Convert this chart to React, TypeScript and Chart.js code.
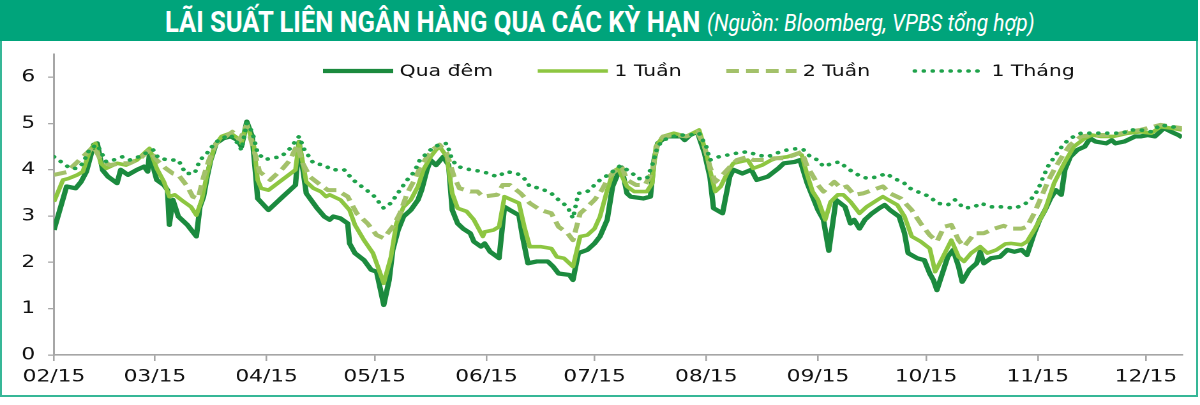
import React, { useEffect, useLayoutEffect, useRef, useState } from 'react';
import { Chart, registerables } from 'chart.js';

Chart.register(...registerables);

// ---------- DATA (x = days since 15/02/2015, y = %) ----------
const seriesNames = ['Qua đêm', '1 Tuần', '2 Tuần', '1 Tháng'];
const monthTickLabels = ['02/15', '03/15', '04/15', '05/15', '06/15', '07/15', '08/15', '09/15', '10/15', '11/15', '12/15'];
const yTickValues = [0, 1, 2, 3, 4, 5, 6];
const axisStartDate = '2015-02-15';
const axisEndDate = '2015-12-25';
const yAxisMax = 6.5;

const quaDem: [number, number][] = [[0,2.7],[3.5,3.64],[6,3.6],[7.5,3.74],[9,3.96],[11,4.54],[12,4.57],[13.5,3.99],[15,3.85],[17.5,3.71],[18.5,4.0],[20.5,3.89],[23,4.0],[25,4.07],[26,3.96],[26.5,4.36],[28.5,3.78],[30.5,3.67],[31.5,3.56],[32,2.81],[33,3.35],[34.5,2.99],[37,2.81],[38.5,2.66],[39.5,2.56],[40.5,3.2],[41.5,3.42],[42.5,3.85],[43.5,4.21],[45,4.57],[47,4.68],[49,4.72],[51,4.64],[52,4.5],[53.5,5.04],[55,4.72],[56,3.85],[56.5,3.38],[59.5,3.13],[63.5,3.42],[67,3.67],[68,4.6],[70,3.49],[73,3.17],[75,2.99],[76.5,2.92],[77.5,2.99],[79.5,2.95],[81.5,2.84],[82,2.41],[83.5,2.2],[86,2.05],[88,1.84],[89.5,1.8],[91.5,1.08],[93,1.62],[94,2.27],[95.5,2.7],[97,2.99],[99,3.13],[101,3.35],[102,3.56],[103.5,4.0],[104.5,4.21],[106,4.1],[108,4.28],[109.5,4.1],[110.5,3.13],[112,2.84],[113.5,2.73],[115.5,2.63],[116.5,2.45],[118.5,2.34],[119.5,2.41],[121,2.23],[123.5,2.09],[125,3.2],[126.5,3.13],[129,3.02],[130,2.56],[131.5,1.98],[134,2.02],[137,2.02],[138.5,1.91],[140,1.76],[143,1.73],[144,1.62],[145.5,2.2],[148,2.27],[150,2.41],[151.5,2.56],[153.5,2.92],[155,3.64],[156.5,3.92],[157.5,4.05],[159,3.49],[160,3.42],[163.5,3.38],[165.5,3.42],[166.5,4.21],[167.5,4.57],[170,4.72],[174,4.72],[175,4.64],[176.5,4.75],[178.5,4.82],[180.5,4.36],[182,3.85],[183,3.17],[185.5,3.06],[187.5,3.85],[188.5,4.0],[191,3.92],[193.5,4.0],[195,3.78],[198,3.85],[201,4.03],[202.5,4.14],[205.5,4.17],[207,4.21],[209,3.71],[212,3.13],[213.5,2.92],[215,2.25],[217,3.35],[219.5,3.2],[221,2.84],[222,2.92],[223.5,2.73],[225,2.92],[227,3.06],[229,3.17],[230.5,3.24],[232,3.13],[234.5,2.99],[236,2.63],[237,2.2],[239.5,2.09],[241.5,2.05],[243,1.76],[244,1.62],[245,1.4],[246.5,1.76],[248,2.12],[249.5,2.27],[251,1.91],[252,1.58],[254,1.84],[256,1.98],[257,2.23],[258,1.98],[260,2.09],[262.5,2.12],[264.5,2.27],[266.5,2.23],[268.5,2.27],[270,2.16],[272,2.63],[273.5,2.92],[275,3.13],[276.5,3.38],[278,3.56],[279.5,3.46],[280.5,4.0],[282,4.28],[284,4.43],[286,4.5],[287.5,4.68],[289,4.61],[292,4.57],[293.5,4.64],[294.5,4.57],[297,4.61],[300,4.72],[301.5,4.72],[303.5,4.75],[305.5,4.72],[308,4.9],[310,4.82],[312,4.75],[313,4.7]];

const motTuan: [number, number][] = [[0,3.31],[2.5,3.78],[4,3.81],[6.5,3.89],[8,3.96],[10,4.43],[11.5,4.57],[13,4.14],[14.5,4.03],[17.5,4.14],[20,4.1],[23,4.21],[25.5,4.39],[26.5,4.46],[28.5,4.03],[30.5,3.74],[32,3.42],[33.5,3.46],[36,3.31],[38,3.2],[39.5,3.02],[41,3.35],[42.5,3.92],[44.5,4.5],[46.5,4.72],[49,4.79],[51,4.68],[52,4.57],[53.5,5.0],[55.5,4.5],[56.5,3.78],[57.5,3.6],[59.5,3.56],[67,4.0],[68,4.6],[70,3.74],[72,3.6],[74,3.53],[75.5,3.42],[76.5,3.46],[79.5,3.35],[82,3.13],[83.5,2.81],[86,2.48],[88.5,2.2],[91.5,1.55],[93.5,2.12],[95,2.84],[97,3.2],[99,3.35],[101,3.64],[102.5,4.0],[104.5,4.28],[106,4.43],[107,4.5],[109,4.28],[110.5,3.49],[112,3.17],[114.5,3.1],[116.5,2.92],[119,2.56],[119.5,2.66],[122,2.7],[123.5,2.77],[125,3.42],[129,3.28],[130.5,2.77],[132,2.34],[135,2.34],[138,2.3],[139.5,2.12],[141.5,2.09],[144,1.91],[146,2.56],[148,2.59],[150,2.73],[151.5,2.99],[153.5,3.56],[155,3.92],[156.5,4.03],[159,3.64],[161,3.53],[164.5,3.53],[166,3.71],[167,4.5],[169,4.72],[172,4.79],[175.5,4.72],[179,4.86],[181,4.36],[182,4.0],[183.5,3.53],[185,3.64],[187,3.96],[188.5,4.14],[192.5,4.21],[194,4.03],[196.5,4.1],[199,4.21],[200.5,4.25],[203.5,4.28],[206.5,4.36],[207.5,4.32],[209,3.89],[210.5,3.53],[212,3.35],[214,2.92],[215.5,3.31],[217.5,3.46],[219,3.46],[221,3.31],[223.5,3.06],[225.5,3.2],[228.5,3.35],[230,3.42],[231.5,3.35],[234,3.24],[236,2.99],[238,2.56],[240.5,2.45],[243,2.3],[244.5,1.8],[246.5,2.09],[249,2.48],[251,2.12],[252.5,2.02],[254.5,2.2],[257,2.34],[259,2.2],[261.5,2.27],[264,2.4],[265.5,2.41],[268.5,2.38],[270,2.45],[272,2.7],[275,3.13],[277.5,3.71],[280.5,4.17],[283,4.5],[286,4.68],[288,4.75],[290.5,4.72],[294,4.72],[298,4.79],[301.5,4.82],[304.5,4.79],[307,4.93],[310,4.9],[313,4.86]];

const haiTuan: [number, number][] = [[0,3.89],[3.5,3.95],[11,4.5],[13,4.21],[15.5,4.1],[18.5,4.14],[21,4.14],[24,4.25],[26.5,4.43],[28.5,4.21],[31,4.03],[33,3.92],[34.5,3.89],[37,3.64],[38.5,3.42],[40,3.38],[41.5,3.85],[43,4.21],[45,4.57],[47,4.68],[49.5,4.82],[51.5,4.64],[53.5,4.97],[56,4.28],[57,3.96],[60,3.78],[63.5,4.03],[65.5,4.21],[67.5,4.54],[69,4.14],[71,3.85],[74,3.67],[76,3.56],[78.5,3.56],[81.5,3.42],[84,3.06],[87,2.84],[89.5,2.59],[91.5,2.52],[94,2.77],[96,3.06],[98,3.49],[100,3.78],[101.5,4.03],[103.5,4.28],[105.5,4.46],[107,4.54],[109,4.36],[111,3.85],[112.5,3.6],[115.5,3.53],[117.5,3.53],[119,3.42],[123,3.46],[124.5,3.67],[126.5,3.67],[129.5,3.49],[132,3.28],[135,3.13],[138,3.06],[140,2.77],[142.5,2.63],[144,2.48],[146,3.06],[148,3.2],[150,3.35],[152,3.56],[154,3.85],[156,4.0],[157.5,4.07],[159,3.78],[161.5,3.67],[164,3.67],[166,3.96],[167.5,4.57],[169,4.72],[172.5,4.75],[175.5,4.72],[178.5,4.82],[180.5,4.5],[182,4.07],[183.5,3.74],[185.5,3.89],[188,4.1],[189.5,4.21],[192.5,4.28],[194,4.21],[197,4.21],[200,4.25],[202.5,4.25],[205.5,4.32],[207.5,4.39],[209,4.07],[211,3.81],[212,3.67],[213.5,3.53],[216.5,3.74],[218.5,3.6],[220,3.64],[222,3.46],[224.5,3.49],[227,3.56],[230,3.64],[232,3.49],[235,3.38],[238,3.13],[240.5,2.84],[243,2.59],[245,2.45],[247,2.77],[249,2.81],[251,2.48],[252.5,2.34],[255.5,2.63],[258,2.63],[261,2.73],[263.5,2.79],[265.5,2.73],[268.5,2.73],[270,2.77],[272,3.06],[274,3.42],[276,3.78],[278,4.07],[280,4.32],[282,4.54],[285,4.72],[288,4.75],[290.5,4.75],[294,4.75],[298,4.82],[301.5,4.86],[307,4.97],[310,4.93],[313,4.9]];

const motThang: [number, number][] = [[0,4.28],[2,4.17],[4.5,4.03],[6.5,4.03],[8,4.14],[10,4.46],[12,4.54],[13,4.39],[14.5,4.17],[16.5,4.21],[19,4.28],[21,4.21],[23.5,4.28],[25.5,4.36],[27.5,4.43],[29,4.25],[32,4.21],[34.5,4.21],[36.5,3.92],[39,3.92],[40.5,4.21],[42.5,4.36],[44.5,4.57],[46.5,4.68],[49,4.75],[51,4.57],[52,4.43],[53.5,5.0],[55,4.82],[56.5,4.36],[58.5,4.22],[61,4.26],[63,4.28],[65.5,4.46],[68,4.72],[69.5,4.43],[72,4.14],[75,4.1],[77,4.0],[80.5,4.0],[83,3.78],[86,3.6],[88.5,3.46],[91.5,3.17],[93.5,3.28],[96,3.56],[98,3.78],[100,3.96],[101.5,4.21],[103.5,4.36],[105.5,4.5],[107,4.54],[109,4.57],[110.5,4.21],[112,4.07],[115.5,4.0],[119,3.96],[123,3.85],[125.5,3.96],[128.5,3.92],[130.5,3.81],[132,3.64],[135,3.6],[138,3.49],[140,3.35],[142.5,3.2],[144,2.95],[145.5,3.49],[148,3.53],[150,3.67],[151.5,3.78],[153,3.85],[155,3.96],[157,4.08],[160,3.96],[162,3.81],[164.5,3.81],[166,4.1],[167.5,4.5],[169,4.64],[173,4.75],[176.5,4.75],[179,4.79],[181,4.5],[182,4.21],[184.5,4.28],[187,4.32],[189.5,4.36],[192.5,4.39],[195,4.32],[198,4.28],[200.5,4.36],[203.5,4.43],[206.5,4.46],[208,4.43],[210,4.27],[212,4.21],[213.5,4.07],[216,4.14],[218,4.17],[219.5,4.07],[221.5,3.96],[224,3.85],[226,3.81],[228.5,3.85],[231,3.92],[233,3.81],[235.5,3.74],[237.5,3.6],[239.5,3.53],[243,3.42],[245,3.28],[248,3.24],[250,3.35],[252.5,3.17],[255.5,3.2],[257,3.28],[260,3.2],[263,3.2],[266.5,3.17],[269,3.24],[271,3.35],[273,3.56],[274.5,3.85],[276,4.1],[278,4.32],[280,4.54],[282,4.68],[285,4.79],[288,4.79],[291.5,4.79],[296.5,4.79],[298.5,4.86],[301.5,4.86],[304.5,4.82],[307,4.97],[310,4.93],[313,4.9]];

// ---------- helpers ----------
const DAY = 86400000;
const startMs = Date.parse(axisStartDate + 'T00:00:00Z');
const daysFromStart = (iso: string) => (Date.parse(iso + 'T00:00:00Z') - startMs) / DAY;
const monthTickDays = monthTickLabels.map((l) => {
  const [mm, yy] = l.split('/').map(Number);
  return (Date.UTC(2000 + yy, mm - 1, 15) - startMs) / DAY;
});
const xAxisMax = daysFromStart(axisEndDate);

// ---------- layout ----------
const CANVAS_W = 940;
const CANVAS_H = 405;
const STRETCH = 1200 / CANVAS_W;
const PLOT_LEFT = 54 / STRETCH;
const PLOT_RIGHT = 1182 / STRETCH;
const PLOT_TOP = 54;
const PLOT_BOTTOM = 355;
const AXIS_COLOR = '#a6a6a6';
const TEXT_FONT = '"DejaVu Sans", Verdana, sans-serif';

const LEGEND_X = 253;
const LEGEND_Y = 71;
const LEGEND_SAMPLE = 55;
const LEGEND_GAP = 35;

const legendPlugin = {
  id: 'customLegend',
  afterDraw(chart: any) {
    const ctx = chart.ctx as CanvasRenderingContext2D;
    ctx.save();
    ctx.font = '16px ' + TEXT_FONT;
    ctx.textBaseline = 'middle';
    ctx.textAlign = 'left';
    let x = LEGEND_X;
    chart.data.datasets.forEach((ds: any) => {
      ctx.beginPath();
      ctx.strokeStyle = ds.borderColor;
      ctx.lineWidth = ds.borderWidth;
      ctx.lineCap = ds.borderCapStyle || 'butt';
      ctx.setLineDash(ds.borderDash || []);
      ctx.moveTo(x, LEGEND_Y);
      ctx.lineTo(x + LEGEND_SAMPLE, LEGEND_Y);
      ctx.stroke();
      ctx.setLineDash([]);
      ctx.fillStyle = '#111';
      ctx.fillText(ds.label, x + LEGEND_SAMPLE + 5, LEGEND_Y + 1);
      x += LEGEND_SAMPLE + 5 + ctx.measureText(ds.label).width + LEGEND_GAP;
    });
    ctx.restore();
  },
};

function FitText({ text, width, left, top, style }: { text: string; width: number; left: number; top: number; style: React.CSSProperties }) {
  const ref = useRef<HTMLSpanElement>(null);
  const [sx, setSx] = useState(1);
  useLayoutEffect(() => {
    const measure = () => {
      if (ref.current && ref.current.offsetWidth > 0) setSx(width / ref.current.offsetWidth);
    };
    measure();
    if ((document as any).fonts && (document as any).fonts.ready) (document as any).fonts.ready.then(measure);
  }, [text, width]);
  return (
    <span
      ref={ref}
      style={{
        position: 'absolute',
        left,
        top,
        whiteSpace: 'nowrap',
        display: 'inline-block',
        transform: `scaleX(${sx})`,
        transformOrigin: '0 0',
        ...style,
      }}
    >
      {text}
    </span>
  );
}

export default function App() {
  const canvasRef = useRef<HTMLCanvasElement>(null);

  useEffect(() => {
    if (!canvasRef.current) return;
    const toXY = (arr: [number, number][]) => arr.map(([x, y]) => ({ x, y }));
    const chart = new Chart(canvasRef.current, {
      type: 'line',
      data: {
        datasets: [
          { label: seriesNames[0], data: toXY(quaDem), borderColor: '#1b8a3e', borderWidth: 4.2, pointRadius: 0, tension: 0, order: 3, fill: false },
          { label: seriesNames[1], data: toXY(motTuan), borderColor: '#8dc641', borderWidth: 3.6, pointRadius: 0, tension: 0, order: 2, fill: false },
          { label: seriesNames[2], data: toXY(haiTuan), borderColor: '#a3c16a', borderWidth: 4, borderDash: [10, 5.5], pointRadius: 0, tension: 0, order: 1, fill: false },
          { label: seriesNames[3], data: toXY(motThang), borderColor: '#1fa24b', borderWidth: 3.6, borderDash: [0.1, 6.9], borderCapStyle: 'round', pointRadius: 0, tension: 0, order: 0, fill: false },
        ] as any,
      },
      options: {
        responsive: false,
        maintainAspectRatio: false,
        animation: false,
        devicePixelRatio: 2,
        layout: { padding: { top: PLOT_TOP, right: CANVAS_W - PLOT_RIGHT, left: 0, bottom: 0 } },
        plugins: { legend: { display: false }, tooltip: { enabled: false }, title: { display: false } },
        elements: { line: { borderJoinStyle: 'round' } },
        scales: {
          x: {
            type: 'linear',
            min: 0,
            max: xAxisMax,
            afterBuildTicks: (scale: any) => {
              scale.ticks = monthTickDays.map((v) => ({ value: v }));
            },
            afterFit: (scale: any) => {
              scale.height = CANVAS_H - PLOT_BOTTOM;
            },
            ticks: {
              autoSkip: false,
              maxRotation: 0,
              minRotation: 0,
              padding: 6,
              color: '#111',
              font: { family: TEXT_FONT, size: 17 },
              callback: (_v: any, i: number) => monthTickLabels[i],
            },
            grid: { display: true, drawOnChartArea: false, drawTicks: true, tickLength: 6, color: AXIS_COLOR, lineWidth: 1.3 },
            border: { display: true, color: AXIS_COLOR, width: 1.6 },
          },
          y: {
            type: 'linear',
            min: 0,
            max: yAxisMax,
            afterBuildTicks: (scale: any) => {
              scale.ticks = yTickValues.map((v) => ({ value: v }));
            },
            afterFit: (scale: any) => {
              scale.width = PLOT_LEFT;
            },
            ticks: {
              padding: 10,
              color: '#111',
              font: { family: TEXT_FONT, size: 17 },
              callback: (v: any) => String(v),
            },
            grid: { display: true, drawOnChartArea: false, drawTicks: true, tickLength: 6 / STRETCH, color: AXIS_COLOR, lineWidth: 1.3 },
            border: { display: true, color: AXIS_COLOR, width: 1.5 },
          },
        },
      } as any,
      plugins: [legendPlugin],
    });
    return () => chart.destroy();
  }, []);

  return (
    <div style={{ position: 'fixed', left: 0, top: 0, width: 1200, height: 405, background: '#fff', overflow: 'hidden' }}>
      <div
        style={{
          position: 'absolute',
          left: 0,
          top: 0,
          width: CANVAS_W,
          height: CANVAS_H,
          transform: `scaleX(${STRETCH})`,
          transformOrigin: '0 0',
        }}
      >
        <canvas ref={canvasRef} width={CANVAS_W} height={CANVAS_H} style={{ display: 'block' }} />
      </div>
      <div
        style={{
          position: 'absolute',
          left: 0,
          top: 0,
          width: 1198,
          height: 397,
          boxSizing: 'border-box',
          border: '2.5px solid #36b797',
          pointerEvents: 'none',
        }}
      />
      <div style={{ position: 'absolute', left: 0, top: 0, width: 1198, height: 41, background: '#00a47b' }}>
        <FitText
          text="LÃI SUẤT LIÊN NGÂN HÀNG QUA CÁC KỲ HẠN"
          width={535}
          left={165}
          top={6}
          style={{ fontFamily: 'Roboto, "Noto Sans", sans-serif', fontWeight: 700, fontSize: 30, lineHeight: '32px', color: '#fff' }}
        />
        <FitText
          text="(Nguồn: Bloomberg, VPBS tổng hợp)"
          width={328}
          left={707}
          top={7}
          style={{ fontFamily: 'Roboto, "Noto Sans", sans-serif', fontStyle: 'italic', fontWeight: 400, fontSize: 24, lineHeight: '32px', color: '#fff' }}
        />
      </div>
    </div>
  );
}
